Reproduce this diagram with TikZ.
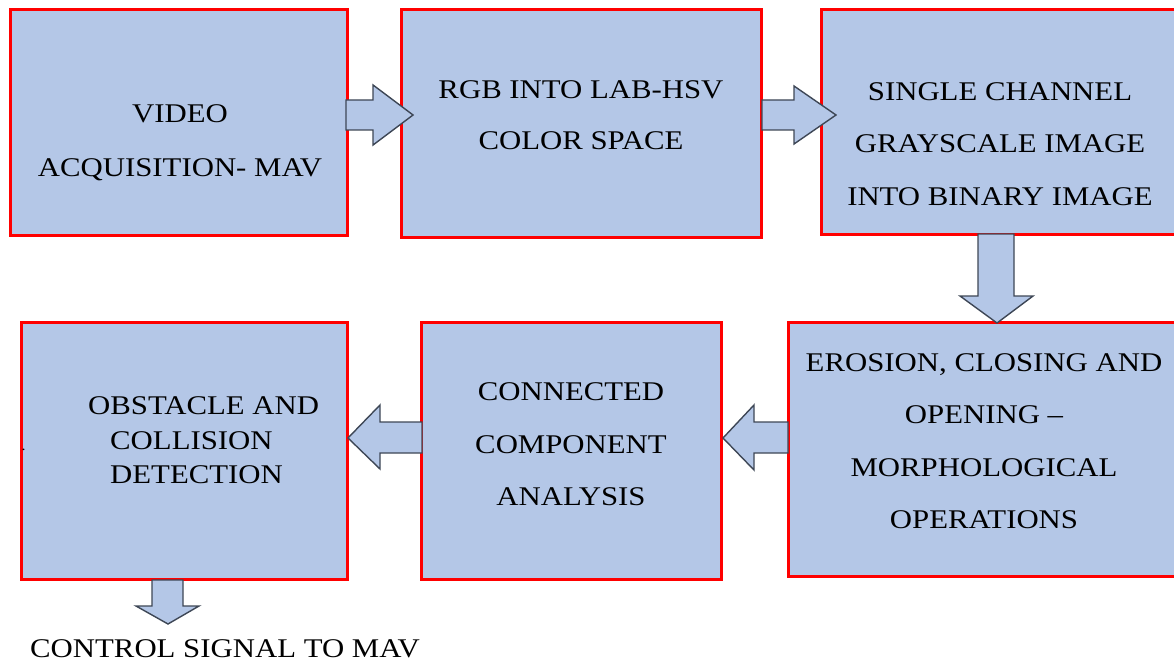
\documentclass[tikz,border=0pt]{standalone}
\usepackage{fontspec}
\setmainfont[FakeStretch=1.14]{Liberation Serif}
\definecolor{boxfill}{HTML}{B4C7E7}
\definecolor{boxline}{HTML}{FF0000}
\definecolor{arrline}{HTML}{3E4756}
\tikzset{
  stagebox/.style={draw=boxline, line width=3pt, fill=boxfill, rectangle, inner sep=0pt},
  blockarrow/.style={draw=arrline, line width=1.4pt, fill=boxfill, line join=miter},
  lbl/.style={anchor=base, inner sep=0pt, font=\fontsize{27}{32}\selectfont, text=black},
  lbll/.style={anchor=base west, inner sep=0pt, font=\fontsize{27}{32}\selectfont, text=black}
}
\begin{document}
\begin{tikzpicture}[x=1pt,y=-1pt]
\clip (0,0) rectangle (1174,663);
\fill[white] (0,0) rectangle (1174,663);
% boxes
\node[stagebox, minimum width=337pt, minimum height=225pt] (b1) at (178.5,122.5) {};
\node[stagebox, minimum width=360pt, minimum height=227pt] (b2) at (581,123.5) {};
\node[stagebox, minimum width=360pt, minimum height=224pt] (b3) at (1001,122) {};
\node[stagebox, minimum width=395pt, minimum height=254pt] (b4) at (985.5,449) {};
\node[stagebox, minimum width=300pt, minimum height=257pt] (b5) at (571,450.5) {};
\node[stagebox, minimum width=326pt, minimum height=257pt] (b6) at (184,450.5) {};
% texts
\node[lbl] (t11) at (180,123) {VIDEO};
\node[lbl] (t12) at (180,177) {ACQUISITION- MAV};
\node[lbl] (t21) at (581,99) {RGB INTO LAB-HSV};
\node[lbl] (t22) at (581,150) {COLOR SPACE};
\node[lbl] (t31) at (1000,101) {SINGLE CHANNEL};
\node[lbl] (t32) at (1000,153) {GRAYSCALE IMAGE};
\node[lbl] (t33) at (1000,205) {INTO BINARY IMAGE};
\node[lbl] (t41) at (984,371) {EROSION, CLOSING AND};
\node[lbl] (t42) at (984,423) {OPENING --};
\node[lbl] (t43) at (984,476) {MORPHOLOGICAL};
\node[lbl] (t44) at (984,528) {OPERATIONS};
\node[lbl] (t51) at (571,400) {CONNECTED};
\node[lbl] (t52) at (571,453) {COMPONENT};
\node[lbl] (t53) at (571,505) {ANALYSIS};
\node[lbll] (t61) at (88,414) {OBSTACLE AND};
\node[lbll] (t62) at (110,449) {COLLISION};
\node[lbll] (t63) at (110,483) {DETECTION};
\node[lbll, font=\fontsize{14}{16}\selectfont] (dot) at (21.5,450) {.};
\node[lbll] (t7) at (30,657) {CONTROL SIGNAL TO MAV};
% block arrows
\draw[blockarrow] (346,100) -- (373,100) -- (373,85) -- (413,115) -- (373,145) -- (373,130) -- (346,130) -- cycle;
\draw[blockarrow] (762,100) -- (794,100) -- (794,86) -- (836,115) -- (794,144) -- (794,130) -- (762,130) -- cycle;
\draw[blockarrow] (978,234) -- (1014,234) -- (1014,296) -- (1033,296) -- (997,323) -- (960,296) -- (978,296) -- cycle;
\draw[blockarrow] (788,422) -- (754,422) -- (754,405) -- (723,438) -- (754,470) -- (754,453) -- (788,453) -- cycle;
\draw[blockarrow] (422,422) -- (380,422) -- (380,405) -- (348,438) -- (380,469) -- (380,453) -- (422,453) -- cycle;
\draw[blockarrow] (152,580) -- (183,580) -- (183,606) -- (199,606) -- (168,624) -- (136,606) -- (152,606) -- cycle;
\end{tikzpicture}
\end{document}
